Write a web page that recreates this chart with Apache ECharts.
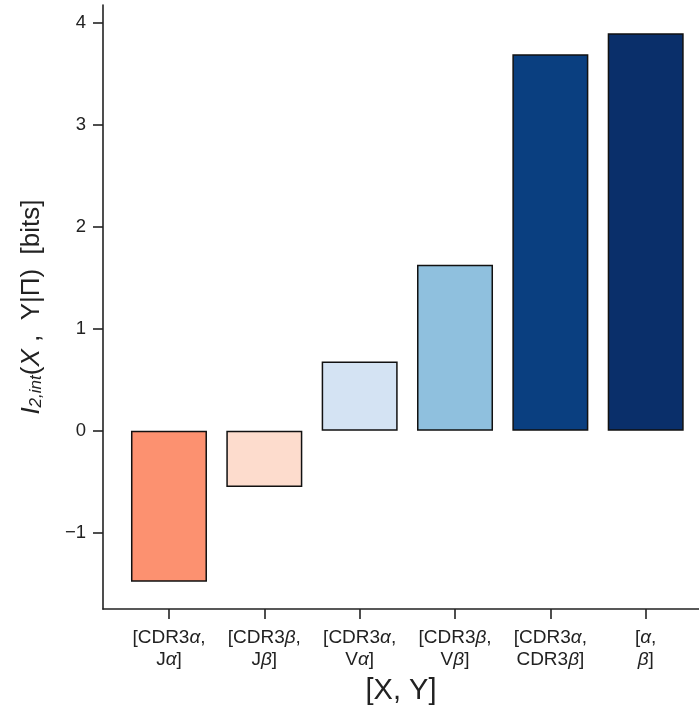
<!DOCTYPE html>
<html>
<head>
<meta charset="utf-8">
<script src="https://cdn.jsdelivr.net/npm/echarts@6/dist/echarts.min.js"></script>
<style>html,body{margin:0;padding:0;background:#fff;}#c{width:699px;height:710px;}</style>
</head>
<body>
<div id="c"></div>
<script>
const categories = ['[CDR3α,\nJα]', '[CDR3β,\nJβ]', '[CDR3α,\nVα]', '[CDR3β,\nVβ]', '[CDR3α,\nCDR3β]', '[α,\nβ]'];
const values = [-1.48, -0.553, 0.678, 1.626, 3.69, 3.895];
const colors = ['#fc9170', '#fddccd', '#d4e3f3', '#8fc0de', '#0a3f80', '#0a2f6a'];
const yTicks = [-1, 0, 1, 2, 3, 4];
const xTicks = [0, 1, 2, 3, 4, 5];

const font = '"Liberation Sans", Arial, sans-serif';
const chart = echarts.init(document.getElementById('c'), null, {renderer: 'canvas'});
chart.setOption({
  animation: false,
  backgroundColor: '#fff',
  grid: {left: 103, right: 0, top: 5, bottom: 99, containLabel: false},
  xAxis: {
    type: 'value', min: -0.692, max: 5.559,
    name: '[X, Y]', nameLocation: 'middle', nameGap: 57,
    nameTextStyle: {fontFamily: font, fontSize: 29, color: '#222'},
    axisLine: {show: true, onZero: false, lineStyle: {color: '#222', width: 1.6}},
    axisTick: {show: true, length: 10, customValues: xTicks, lineStyle: {color: '#222', width: 1.6}},
    splitLine: {show: false},
    axisLabel: {
      customValues: xTicks, margin: 18, color: '#222', fontFamily: font, fontSize: 19, lineHeight: 22,
      formatter: v => categories[Math.round(v)].replace(/([αβ])/g, '{i|$1}'),
      rich: {i: {fontStyle: 'italic', fontFamily: font, fontSize: 19, color: '#222', lineHeight: 22}}
    }
  },
  yAxis: {
    type: 'value', min: -1.749, max: 4.172,
    name: '{i|I}{s|2,int}{n|(}{i|X}{n| ,  Y|Π)  [bits]}', nameLocation: 'middle', nameGap: 58, nameRotate: 90,
    nameTextStyle: {
      fontFamily: font, fontSize: 26, color: '#222',
      rich: {
        i: {fontStyle: 'italic', fontFamily: font, fontSize: 26, color: '#222'},
        s: {fontStyle: 'italic', fontFamily: font, fontSize: 17, color: '#222', verticalAlign: 'bottom', padding: [9, 0, 0, 0]},
        n: {fontFamily: font, fontSize: 26, color: '#222'}
      }
    },
    axisLine: {show: true, onZero: false, lineStyle: {color: '#222', width: 1.6}},
    axisTick: {show: true, length: 10, customValues: yTicks, lineStyle: {color: '#222', width: 1.6}},
    splitLine: {show: false},
    axisLabel: {
      customValues: yTicks, margin: 17, color: '#222', fontFamily: font, fontSize: 18.5,
      formatter: v => (v < 0 ? '\u2212' + Math.abs(v) : String(v))
    }
  },
  series: [{
    type: 'bar',
    barWidth: 76,
    data: values.map((v, i) => ({value: [xTicks[i], v], itemStyle: {color: colors[i]}})),
    itemStyle: {borderColor: '#111', borderWidth: 1.5}
  }]
});
</script>
</body>
</html>
